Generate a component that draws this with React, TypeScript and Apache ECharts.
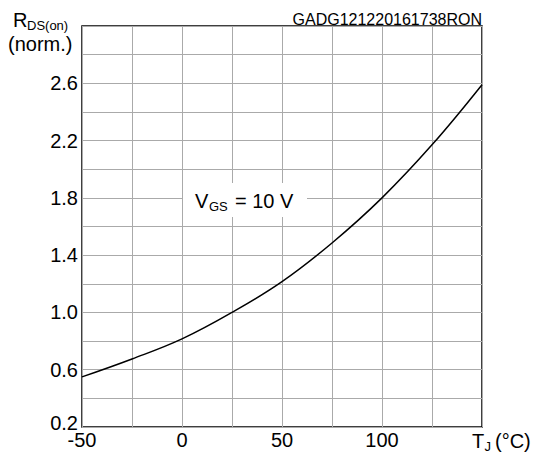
import React, { useEffect, useRef } from "react";
import * as echarts from "echarts";

const tempC = [-50, -25, 0, 25, 50, 75, 100, 125, 150];
const rdsNorm = [0.55, 0.675, 0.815, 1.0, 1.215, 1.485, 1.8, 2.17, 2.59];
const xLabelValues = [-50, 0, 50, 100];
const yLabelValues = [0.2, 0.6, 1.0, 1.4, 1.8, 2.2, 2.6];

const FONT = "'Liberation Sans', Arial, Helvetica, sans-serif";

export default function App() {
  const ref = useRef<HTMLDivElement>(null);
  useEffect(() => {
    if (!ref.current) return;
    const chart = echarts.init(ref.current, undefined, { renderer: "svg" });
    const data = tempC.map((t, i) => [t, rdsNorm[i]]);
    chart.setOption({
      animation: false,
      backgroundColor: "#fff",
      textStyle: { fontFamily: FONT, color: "#000" },
      grid: {
        left: 82,
        right: 55,
        top: 26,
        bottom: 26,
        show: true,
        borderColor: "#000",
        borderWidth: 1.5,
        containLabel: false,
      },
      xAxis: {
        type: "value",
        min: -50,
        max: 150,
        interval: 25,
        axisLine: { show: false },
        axisTick: { show: false },
        splitLine: { show: true, lineStyle: { color: "#aaaaaa", width: 1 } },
        axisLabel: {
          interval: 0,
          showMinLabel: true,
          showMaxLabel: true,
          margin: 3,
          fontSize: 20,
          color: "#000",
          fontFamily: FONT,
          formatter: (v: number) =>
            xLabelValues.some((x) => Math.abs(x - v) < 1e-6) ? String(v) : "",
        },
      },
      yAxis: {
        type: "value",
        min: 0.2,
        max: 3.0,
        interval: 0.2,
        axisLine: { show: false },
        axisTick: { show: false },
        splitLine: { show: true, lineStyle: { color: "#aaaaaa", width: 1 } },
        axisLabel: {
          margin: 4,
          fontSize: 20,
          color: "#000",
          fontFamily: FONT,
          showMinLabel: true,
          formatter: (v: number) => {
            const hit = yLabelValues.find((y) => Math.abs(y - v) < 1e-6);
            if (hit === undefined) return "";
            if (Math.abs(hit - 0.2) < 1e-6) return "{low|0.2}";
            return hit.toFixed(1);
          },
          rich: {
            low: { fontSize: 20, fontFamily: FONT, color: "#000", padding: [0, 0, 8, 0] },
          },
        },
      },
      series: [
        {
          type: "line",
          data,
          smooth: 0.4,
          symbol: "none",
          lineStyle: { color: "#000", width: 1.5 },
          z: 5,
        },
      ],
      graphic: [
        {
          type: "text",
          z: 100,
          x: 482,
          y: 19,
          style: {
            text: "GADG121220161738RON",
            fontSize: 16,
            fontFamily: FONT,
            fill: "#000",
            align: "right",
            verticalAlign: "middle",
          },
        },
        {
          type: "text",
          z: 100,
          x: 13,
          y: 20,
          style: { text: "R", fontSize: 20, fontFamily: FONT, fill: "#000", verticalAlign: "middle" },
        },
        {
          type: "text",
          z: 100,
          x: 27,
          y: 25,
          style: { text: "DS(on)", fontSize: 13, fontFamily: FONT, fill: "#000", verticalAlign: "middle" },
        },
        {
          type: "text",
          z: 100,
          x: 8,
          y: 44,
          style: { text: "(norm.)", fontSize: 20, fontFamily: FONT, fill: "#000", verticalAlign: "middle" },
        },
        {
          type: "text",
          z: 100,
          x: 472,
          y: 441,
          style: { text: "T", fontSize: 20, fontFamily: FONT, fill: "#000", verticalAlign: "middle" },
        },
        {
          type: "text",
          z: 100,
          x: 484.5,
          y: 446,
          style: { text: "J", fontSize: 13, fontFamily: FONT, fill: "#000", verticalAlign: "middle" },
        },
        {
          type: "text",
          z: 100,
          x: 495,
          y: 441,
          style: { text: "(°C)", fontSize: 20, fontFamily: FONT, fill: "#000", verticalAlign: "middle" },
        },
        {
          type: "rect",
          z: 100,
          shape: { x: 183, y: 183, width: 124, height: 34 },
          style: { fill: "#fff", stroke: null },
        },
        {
          type: "text",
          z: 101,
          x: 195,
          y: 201,
          style: { text: "V", fontSize: 20, fontFamily: FONT, fill: "#000", verticalAlign: "middle" },
        },
        {
          type: "text",
          z: 101,
          x: 209,
          y: 206,
          style: { text: "GS", fontSize: 13, fontFamily: FONT, fill: "#000", verticalAlign: "middle" },
        },
        {
          type: "text",
          z: 101,
          x: 235,
          y: 201,
          style: { text: "= 10 V", fontSize: 20, fontFamily: FONT, fill: "#000", verticalAlign: "middle" },
        },
      ],
    });
    return () => chart.dispose();
  }, []);
  return (
    <div
      ref={ref}
      style={{ position: "fixed", left: 0, top: 0, width: 537, height: 453 }}
    />
  );
}
